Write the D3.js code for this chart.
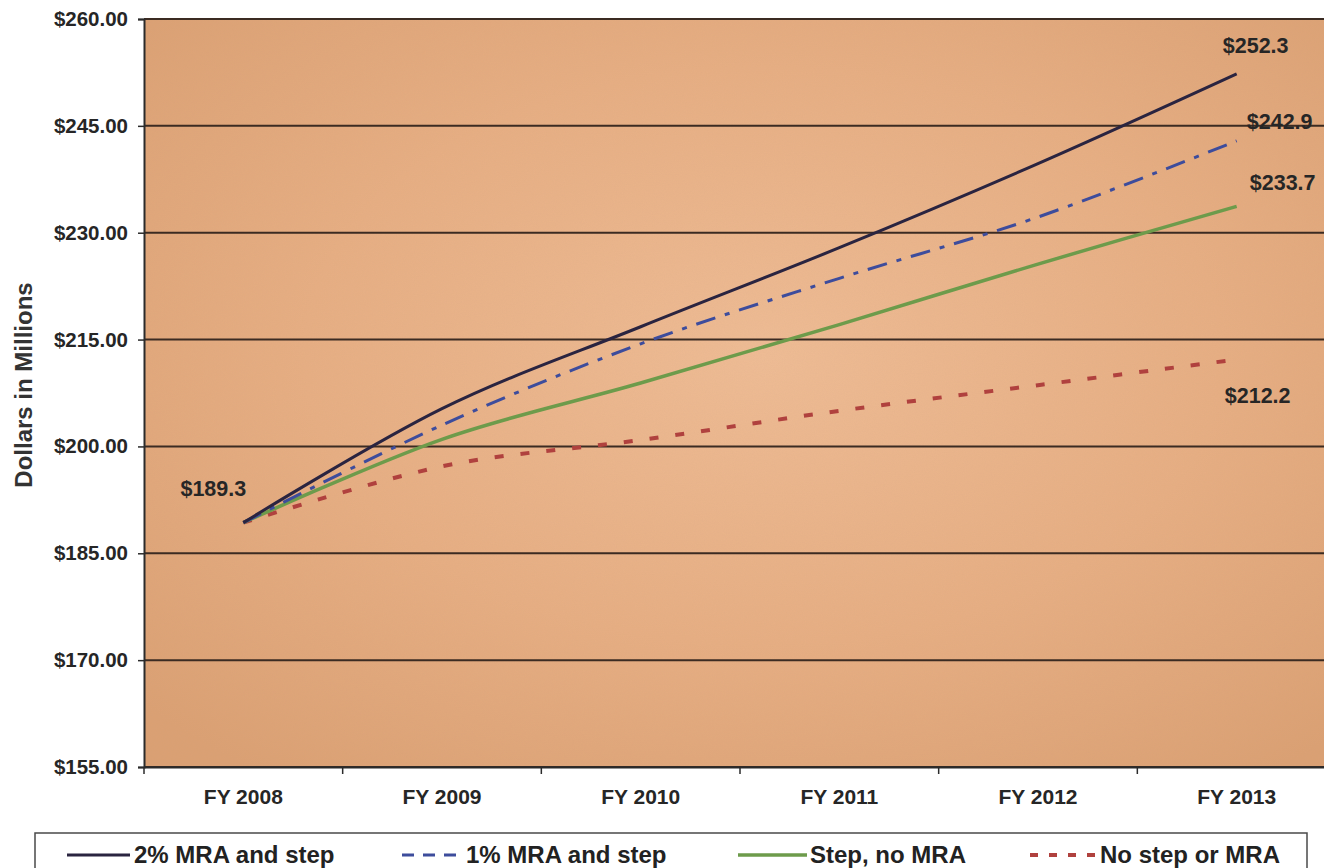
<!DOCTYPE html>
<html>
<head>
<meta charset="utf-8">
<script src="https://cdn.jsdelivr.net/npm/d3@7"></script>
<style>
  html, body { margin: 0; padding: 0; background: #ffffff; }
  svg { display: block; font-family: "Liberation Sans", Arial, sans-serif; font-weight: bold; }
</style>
</head>
<body>
<svg id="chart" width="1324" height="868"></svg>
<script>
// Fiscal years on the category axis
const categories = ["FY 2008", "FY 2009", "FY 2010", "FY 2011", "FY 2012", "FY 2013"];

// Projected cost by scenario, dollars in millions
const mra2Step   = [189.3, 205.3, 216.8, 227.9, 239.7, 252.3];
const mra1Step   = [189.3, 203.0, 214.4, 223.6, 232.2, 242.9];
const stepNoMra  = [189.3, 201.0, 208.9, 217.1, 225.6, 233.7];
const noStepMra  = [189.3, 197.2, 200.9, 205.0, 208.6, 212.2];

const seriesNames = ["2% MRA and step", "1% MRA and step", "Step, no MRA", "No step or MRA"];

// Value axis ticks
const yTicks = [155, 170, 185, 200, 215, 230, 245, 260];

const series = [
  { name: seriesNames[0], values: mra2Step,  color: "#2a2440", width: 3,   dash: null,         legendDash: null },
  { name: seriesNames[1], values: mra1Step,  color: "#3d4c9c", width: 3,   dash: "20,10,5,10", legendDash: "12,9" },
  { name: seriesNames[2], values: stepNoMra, color: "#6d9b4b", width: 3.5, dash: null,         legendDash: null },
  { name: seriesNames[3], values: noStepMra, color: "#b0413e", width: 4,   dash: "9,17",       legendDash: "8,11" }
];

const svg = d3.select("#chart");
const plot = { left: 144, top: 19, right: 1336, bottom: 767 };

const x = d3.scaleBand().domain(categories).range([plot.left, plot.right]);
const xc = c => x(c) + x.bandwidth() / 2;
const y = d3.scaleLinear().domain([155, 260]).range([plot.bottom, plot.top]);

// Plot area fill: warm tan with a lighter centre and a fine grain
const defs = svg.append("defs");
const grad = defs.append("radialGradient").attr("id", "plotFill")
  .attr("cx", "52%").attr("cy", "45%").attr("r", "70%");
grad.append("stop").attr("offset", "0%").attr("stop-color", "#efbc95");
grad.append("stop").attr("offset", "55%").attr("stop-color", "#e7ae83");
grad.append("stop").attr("offset", "100%").attr("stop-color", "#dba073");

const noise = defs.append("filter").attr("id", "grain").attr("x", 0).attr("y", 0).attr("width", "100%").attr("height", "100%");
noise.append("feTurbulence").attr("type", "fractalNoise").attr("baseFrequency", 0.9).attr("numOctaves", 2).attr("seed", 3).attr("result", "n");
noise.append("feColorMatrix").attr("in", "n").attr("type", "matrix")
  .attr("values", "0 0 0 0 0.55  0 0 0 0 0.35  0 0 0 0 0.2  0 0 0 0.12 0");
noise.append("feComposite").attr("in2", "SourceGraphic").attr("operator", "in");

svg.append("rect")
  .attr("x", plot.left).attr("y", plot.top)
  .attr("width", plot.right - plot.left).attr("height", plot.bottom - plot.top)
  .attr("fill", "url(#plotFill)");
svg.append("rect")
  .attr("x", plot.left).attr("y", plot.top)
  .attr("width", plot.right - plot.left).attr("height", plot.bottom - plot.top)
  .attr("fill", "#e8b085")
  .attr("filter", "url(#grain)");

// Horizontal gridlines
svg.append("g").selectAll("line").data(yTicks).join("line")
  .attr("x1", plot.left).attr("x2", plot.right)
  .attr("y1", d => y(d)).attr("y2", d => y(d))
  .attr("stroke", "#3b2b22").attr("stroke-width", 2);

// Value axis
const yAxis = svg.append("g")
  .attr("transform", `translate(${plot.left},0)`)
  .call(d3.axisLeft(y).tickValues(yTicks).tickSize(6).tickPadding(10)
    .tickFormat(d => "$" + d3.format(".2f")(d)));
yAxis.select(".domain").attr("stroke", "#2b2b2b").attr("stroke-width", 2);
yAxis.selectAll(".tick line").attr("stroke", "#2b2b2b").attr("stroke-width", 1.5);
yAxis.selectAll(".tick text")
  .attr("fill", "#262626").attr("font-size", 20.5).attr("font-weight", "bold")
  .attr("font-family", "Liberation Sans, Arial, sans-serif");

// Category axis: labels centred in bands, tick marks on band edges
const xAxis = svg.append("g")
  .attr("transform", `translate(0,${plot.bottom})`)
  .call(d3.axisBottom(x).tickSize(0).tickPadding(22));
xAxis.select(".domain").attr("stroke", "#2b2b2b").attr("stroke-width", 2);
xAxis.selectAll(".tick text")
  .attr("fill", "#262626").attr("font-size", 21).attr("font-weight", "bold")
  .attr("font-family", "Liberation Sans, Arial, sans-serif");
const edges = categories.map(c => x(c)).concat([plot.right]);
svg.append("g").selectAll("line").data(edges).join("line")
  .attr("x1", d => d).attr("x2", d => d)
  .attr("y1", plot.bottom).attr("y2", plot.bottom + 7)
  .attr("stroke", "#2b2b2b").attr("stroke-width", 1.5);

// Axis title
svg.append("text")
  .attr("transform", `translate(32,385) rotate(-90)`)
  .attr("text-anchor", "middle")
  .attr("font-size", 24).attr("fill", "#333")
  .text("Dollars in Millions");

// Scenario lines
const line = d3.line()
  .x((d, i) => xc(categories[i]))
  .y(d => y(d))
  .curve(d3.curveCatmullRom.alpha(0));

const drawOrder = [3, 2, 1, 0];
svg.append("g").selectAll("path").data(drawOrder.map(i => series[i])).join("path")
  .attr("d", d => line(d.values))
  .attr("fill", "none")
  .attr("stroke", d => d.color)
  .attr("stroke-width", d => d.width)
  .attr("stroke-dasharray", d => d.dash)
  .attr("stroke-linecap", "butt");

// Value labels at the start and end of the lines
const fmt = v => "$" + d3.format(".1f")(v);
const last = categories.length - 1;
const valueLabels = [
  { v: mra2Step[0],     cx: xc(categories[0]) - 30, dy: -27 },
  { v: mra2Step[last],  cx: xc(categories[last]) + 19, dy: -21 },
  { v: mra1Step[last],  cx: xc(categories[last]) + 43, dy: -12 },
  { v: stepNoMra[last], cx: xc(categories[last]) + 46, dy: -16 },
  { v: noStepMra[last], cx: xc(categories[last]) + 21, dy: 43 }
];
svg.append("g").selectAll("text").data(valueLabels).join("text")
  .attr("x", d => d.cx).attr("y", d => y(d.v) + d.dy)
  .attr("text-anchor", "middle")
  .attr("font-size", 21.5).attr("fill", "#262626")
  .text(d => fmt(d.v));

// Legend
const legend = svg.append("g");
legend.append("rect")
  .attr("x", 35).attr("y", 833).attr("width", 1272).attr("height", 60)
  .attr("fill", "#ffffff").attr("stroke", "#4a4a4a").attr("stroke-width", 1.5);
const legendItems = [
  { s: series[0], x1: 67,   x2: 130,  tx: 134 },
  { s: series[1], x1: 402,  x2: 459,  tx: 466 },
  { s: series[2], x1: 738,  x2: 807,  tx: 810 },
  { s: series[3], x1: 1030, x2: 1097, tx: 1100 }
];
const lg = legend.selectAll("g.item").data(legendItems).join("g").attr("class", "item");
lg.append("line")
  .attr("x1", d => d.x1).attr("x2", d => d.x2)
  .attr("y1", 855).attr("y2", 855)
  .attr("stroke", d => d.s.color)
  .attr("stroke-width", d => d.s.width)
  .attr("stroke-dasharray", d => d.s.legendDash);
lg.append("text")
  .attr("x", d => d.tx).attr("y", 863)
  .attr("font-size", 24).attr("fill", "#222")
  .text(d => d.s.name);
</script>
</body>
</html>
